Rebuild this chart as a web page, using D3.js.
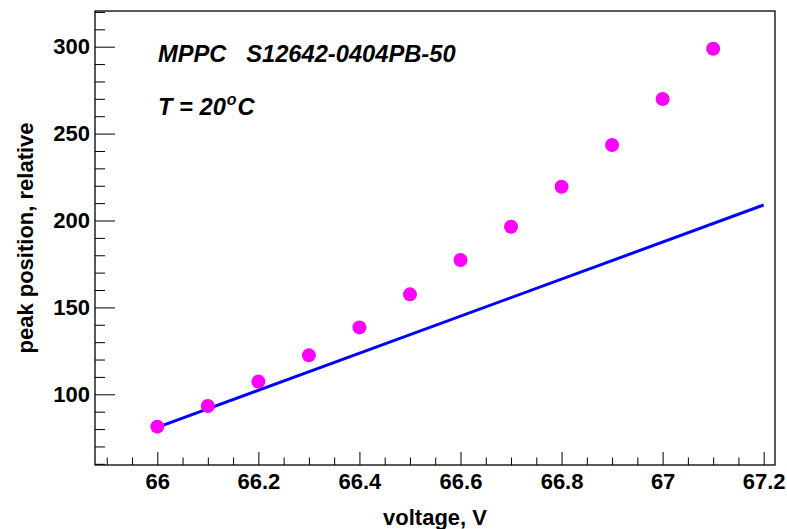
<!DOCTYPE html>
<html>
<head>
<meta charset="utf-8">
<script src="https://cdn.jsdelivr.net/npm/d3@7"></script>
<style>
  body { margin: 0; background: #fff; }
  text { font-family: "Liberation Sans", Arial, Helvetica, sans-serif; }
</style>
</head>
<body>
<svg id="chart" width="787" height="529"></svg>
<script>
// measured points
const voltage = [66, 66.1, 66.2, 66.3, 66.4, 66.5, 66.6, 66.7, 66.8, 66.9, 67, 67.1];
const peakPos = [81.4, 93.3, 107.3, 122.4, 138.5, 157.5, 177.3, 196.4, 219.4, 243.4, 269.9, 298.8];

// straight line drawn over the range
const lineVoltage = [66, 67.2];
const linePeak = [81, 208.9];

const xMajor = [66, 66.2, 66.4, 66.6, 66.8, 67, 67.2];
const yMajor = [100, 150, 200, 250, 300];

const frame = { left: 95, right: 775, top: 11, bottom: 465 };

const svg = d3.select("#chart");
svg.append("rect").attr("width", 787).attr("height", 529).attr("fill", "#fff");

const x = d3.scaleLinear()
    .domain([65.8767, 67.2224])
    .range([frame.left, frame.right]);

const y = d3.scaleLinear()
    .domain([59.32, 320.54])
    .range([frame.bottom, frame.top]);

// minor ticks
const xMinor = d3.range(65.9, 67.23, 0.05).filter(v => xMajor.every(m => Math.abs(m - v) > 1e-6));
const yMinor = d3.range(60, 321, 10).filter(v => v % 50 !== 0);

svg.append("g")
    .attr("transform", `translate(0,${frame.bottom})`)
    .call(d3.axisBottom(x).tickValues(xMinor).tickSize(-7.5).tickFormat(""))
    .call(g => g.select(".domain").remove());

svg.append("g")
    .attr("class", "x-axis")
    .attr("transform", `translate(0,${frame.bottom})`)
    .call(d3.axisBottom(x).tickValues(xMajor).tickSize(-13).tickPadding(8).tickFormat(d3.format("")))
    .call(g => g.select(".domain").remove());

svg.append("g")
    .attr("transform", `translate(${frame.left},0)`)
    .call(d3.axisLeft(y).tickValues(yMinor).tickSize(-10).tickFormat(""))
    .call(g => g.select(".domain").remove());

svg.append("g")
    .attr("class", "y-axis")
    .attr("transform", `translate(${frame.left},0)`)
    .call(d3.axisLeft(y).tickValues(yMajor).tickSize(-20).tickPadding(5).tickFormat(d3.format("d")))
    .call(g => g.select(".domain").remove());

svg.selectAll(".tick line").attr("stroke", "#000").attr("stroke-width", 1);
svg.selectAll(".tick text")
    .attr("fill", "#000")
    .style("font-size", "22px")
    .style("font-weight", "bold")
    .style("font-family", "'Liberation Sans', Arial, sans-serif");

// frame
svg.append("rect")
    .attr("x", frame.left)
    .attr("y", frame.top)
    .attr("width", frame.right - frame.left)
    .attr("height", frame.bottom - frame.top)
    .attr("fill", "none")
    .attr("stroke", "#000")
    .attr("stroke-width", 1.3);

// fit line
const lineData = lineVoltage.map((v, i) => ({ v: v, p: linePeak[i] }));
svg.append("path")
    .datum(lineData)
    .attr("fill", "none")
    .attr("stroke", "#0000ff")
    .attr("stroke-width", 3)
    .attr("d", d3.line().x(d => x(d.v)).y(d => y(d.p)));

// points
svg.selectAll(".pt")
    .data(voltage.map((v, i) => ({ v: v, p: peakPos[i] })))
    .enter()
    .append("circle")
    .attr("class", "pt")
    .attr("cx", d => x(d.v))
    .attr("cy", d => y(d.p))
    .attr("r", 7)
    .attr("fill", "#ff00ff");

// axis titles
svg.append("text")
    .attr("x", (frame.left + frame.right) / 2)
    .attr("y", 525)
    .attr("text-anchor", "middle")
    .style("font-size", "22px")
    .style("font-weight", "bold")
    .text("voltage, V");

svg.append("text")
    .attr("transform", `translate(33,${(frame.top + frame.bottom) / 2}) rotate(-90)`)
    .attr("text-anchor", "middle")
    .style("font-size", "22px")
    .style("font-weight", "bold")
    .text("peak position, relative");

// labels in the plot
svg.append("text")
    .attr("x", 158)
    .attr("y", 62)
    .style("font-size", "23.7px")
    .style("font-weight", "bold")
    .style("font-style", "italic")
    .attr("xml:space", "preserve")
    .text("MPPC   S12642-0404PB-50");

const tLabel = svg.append("text")
    .attr("x", 158)
    .attr("y", 115)
    .style("font-size", "23.7px")
    .style("font-weight", "bold")
    .style("font-style", "italic");
tLabel.append("tspan").text("T = 20");
tLabel.append("tspan").attr("dx", 1).attr("dy", -10).style("font-size", "16px").text("o");
tLabel.append("tspan").attr("dx", 1).attr("dy", 10).text("C");
</script>
</body>
</html>
